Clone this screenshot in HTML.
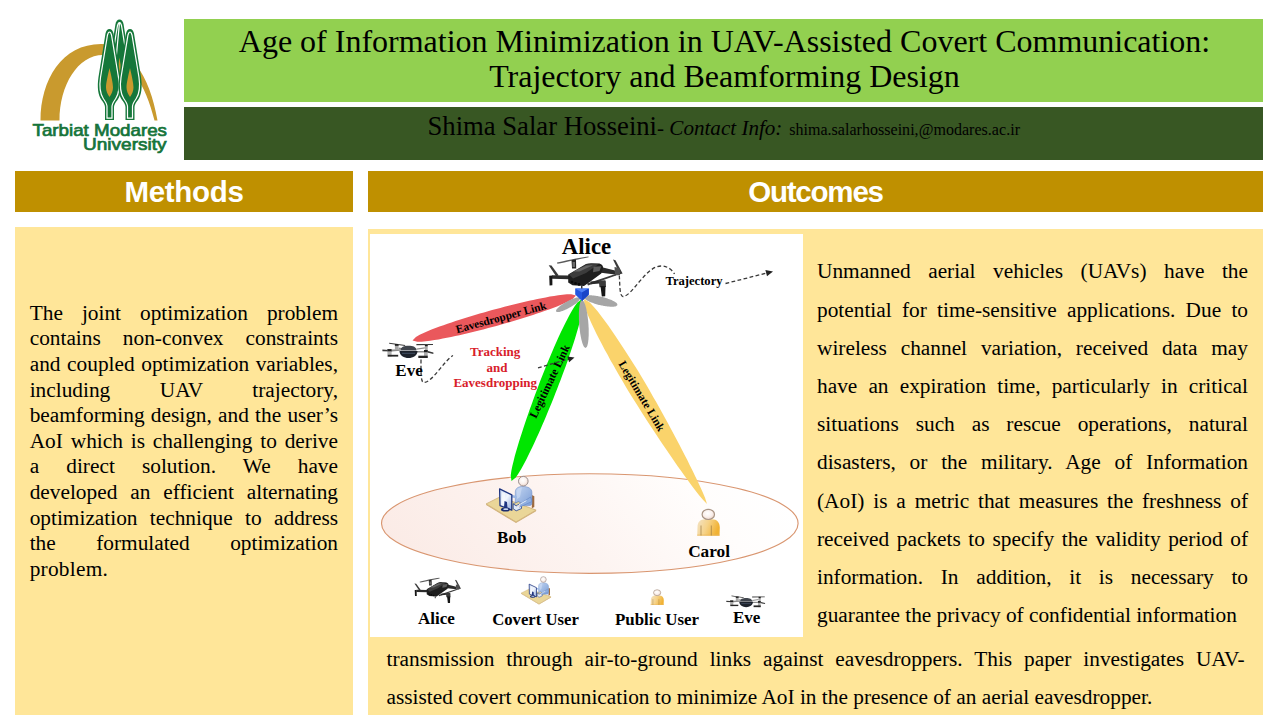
<!DOCTYPE html>
<html><head><meta charset="utf-8">
<style>
html,body{margin:0;padding:0;}
body{width:1280px;height:720px;position:relative;overflow:hidden;background:#fff;font-family:"Liberation Serif",serif;color:#000;}
.abs{position:absolute;}
.box{position:absolute;}
#title{left:184px;top:19px;width:1079px;height:83px;background:#92D050;}
#author{left:184px;top:107px;width:1079px;height:53px;background:#385723;}
.hdr{top:171px;height:41px;background:#BF9000;color:#fff;font-family:"Liberation Sans",sans-serif;font-weight:bold;font-size:29.5px;line-height:42px;text-align:center;}
#mh{left:15px;width:338px;}
#oh{left:368px;width:895px;}
#mb{left:15px;top:227px;width:338px;height:488px;background:#FFE699;}
#ob{left:368px;top:229px;width:895px;height:486px;background:#FFE699;}
#fig{left:370px;top:234px;width:433px;height:403px;background:#fff;}
.tl{position:absolute;white-space:nowrap;}
.j{text-align:justify;text-align-last:justify;white-space:normal;}
.mline{position:absolute;left:29.7px;width:308.3px;font-size:21.33px;line-height:25.6px;height:25.6px;}
.rline{position:absolute;left:817px;width:431px;font-size:21.33px;line-height:38.2px;height:38.2px;}
.bline{position:absolute;left:386.5px;width:858px;font-size:21.33px;line-height:38px;height:38px;}
</style></head>
<body>
<!-- logo -->

<svg class="abs" style="left:0;top:0" width="184" height="165" viewBox="0 0 184 165">
 <defs>
  
  
 </defs>
 <path d="M40.5,120.5 C40.5,80 62,44 101,44 C128,44 150,75 157.5,120.5 L154.5,120.5 C146,85 128,55 103,55 C78,55 59.5,85 59.5,120.5 Z" fill="#C99A2E"/>
 <g transform="translate(119.5,19.5)">
   <path d="M0,0 C2.2,0 3.4,2 4,4.5 L11,48 C12.5,58 11.5,66 8,71 L-8,71 C-11.5,66 -12.5,58 -11,48 L-4,4.5 C-3.4,2 -2.2,0 0,0 Z" fill="#15773A"/>
   <path d="M0,3 C0.9,3 1.6,4.5 2,6 L9,48.5 C10.3,57.5 9.5,64.5 6.3,69.5 M-6.3,69.5 C-9.5,64.5 -10.3,57.5 -9,48.5 L-2,6 C-1.6,4.5 -0.9,3 0,3 Z" fill="none" stroke="#fff" stroke-width="1.2"/>
   <path d="M0,38 C1.2,46 2.2,54 2.2,58 C2.2,61 1,63 0,64 C-1,63 -2.2,61 -2.2,58 C-2.2,54 -1.2,46 0,38 Z" fill="#C99A2E"/></g>
 <g transform="translate(109.5,29)">
   <path d="M0,0 C2.2,0 3.4,2 4,4.5 L11,48 C12.5,58 11.5,66 8,71 C6.5,73 4.5,75.5 4.5,78 L4.5,91 L-4.5,91 L-4.5,78 C-4.5,75.5 -6.5,73 -8,71 C-11.5,66 -12.5,58 -11,48 L-4,4.5 C-3.4,2 -2.2,0 0,0 Z" fill="#15773A"/>
   <path d="M0,3 C0.9,3 1.6,4.5 2,6 L9,48.5 C10.3,57.5 9.5,64.5 6.3,69.5 C4.8,71.8 2.5,74.5 2.5,77.5 L2.5,89.2 L-2.5,89.2 L-2.5,77.5 C-2.5,74.5 -4.8,71.8 -6.3,69.5 C-9.5,64.5 -10.3,57.5 -9,48.5 L-2,6 C-1.6,4.5 -0.9,3 0,3 Z" fill="none" stroke="#fff" stroke-width="1.2"/>
   <path d="M0,39 C1.5,46 3.5,54 3.5,58.5 C3.5,62 2,65 0,68 C-2,65 -3.5,62 -3.5,58.5 C-3.5,54 -1.5,46 0,39 Z" fill="#C99A2E"/></g>
 <g transform="translate(130,29)">
   <path d="M0,0 C2.2,0 3.4,2 4,4.5 L11,48 C12.5,58 11.5,66 8,71 C6.5,73 4.5,75.5 4.5,78 L4.5,91 L-4.5,91 L-4.5,78 C-4.5,75.5 -6.5,73 -8,71 C-11.5,66 -12.5,58 -11,48 L-4,4.5 C-3.4,2 -2.2,0 0,0 Z" fill="#15773A"/>
   <path d="M0,3 C0.9,3 1.6,4.5 2,6 L9,48.5 C10.3,57.5 9.5,64.5 6.3,69.5 C4.8,71.8 2.5,74.5 2.5,77.5 L2.5,89.2 L-2.5,89.2 L-2.5,77.5 C-2.5,74.5 -4.8,71.8 -6.3,69.5 C-9.5,64.5 -10.3,57.5 -9,48.5 L-2,6 C-1.6,4.5 -0.9,3 0,3 Z" fill="none" stroke="#fff" stroke-width="1.2"/>
   <path d="M0,39 C1.5,46 3.5,54 3.5,58.5 C3.5,62 2,65 0,68 C-2,65 -3.5,62 -3.5,58.5 C-3.5,54 -1.5,46 0,39 Z" fill="#C99A2E"/></g>
 <text x="32.5" y="135.8" font-family="Liberation Sans" font-size="16.5" fill="#16743A" stroke="#16743A" stroke-width="0.7" textLength="134.5" lengthAdjust="spacingAndGlyphs">Tarbiat Modares</text>
 <text x="83" y="149.9" font-family="Liberation Sans" font-size="16.5" fill="#16743A" stroke="#16743A" stroke-width="0.7" textLength="83.5" lengthAdjust="spacingAndGlyphs">University</text>
</svg>


<div class="box" id="title"></div>
<div class="tl" style="left:185px;top:23.5px;width:1079px;text-align:center;font-size:32px;line-height:35px;">Age of Information Minimization in UAV-Assisted Covert Communication:<br>Trajectory and Beamforming Design</div>
<div class="box" id="author"></div>
<div class="tl" style="left:427.5px;top:110.6px;font-size:26.67px;line-height:30px;">Shima Salar Hosseini<span style="font-style:italic;font-size:21.1px;">- Contact Info: </span><span style="font-size:16px;margin-left:1.5px;letter-spacing:0.03px">shima.salarhosseini,@modares.ac.ir</span></div>

<div class="box hdr" id="mh" style="letter-spacing:-0.3px">Methods</div>
<div class="box hdr" id="oh" style="letter-spacing:-1.2px">Outcomes</div>
<div class="box" id="mb"></div>
<div class="box" id="ob"></div>
<div class="box" id="fig"></div>

<svg style="position:absolute;left:370px;top:234px" width="433" height="403" viewBox="370 234 433 403">
<defs>
 <linearGradient id="ellg" x1="0" y1="0.6" x2="1" y2="0.4">
  <stop offset="0" stop-color="#FBEBE6"/>
  <stop offset="0.45" stop-color="#FDF4F1"/>
  <stop offset="0.8" stop-color="#FFFDFC"/>
  <stop offset="1" stop-color="#FFFFFF"/>
 </linearGradient>
 <linearGradient id="carolg" x1="0" y1="0" x2="1" y2="0.3">
  <stop offset="0" stop-color="#F3E3C6"/>
  <stop offset="0.5" stop-color="#F6D38A"/>
  <stop offset="1" stop-color="#F1B234"/>
 </linearGradient>
 <radialGradient id="headg" cx="0.45" cy="0.4" r="0.6">
  <stop offset="0" stop-color="#FFFFFF"/>
  <stop offset="0.6" stop-color="#FAF0EC"/>
  <stop offset="1" stop-color="#EBD3C8"/>
 </radialGradient>
 <linearGradient id="bobg" x1="0" y1="0" x2="1" y2="1">
  <stop offset="0" stop-color="#C3D5F1"/>
  <stop offset="1" stop-color="#7C9ED6"/>
 </linearGradient>
 <linearGradient id="scrg" x1="0" y1="0" x2="1" y2="1">
  <stop offset="0" stop-color="#C9D8F2"/>
  <stop offset="0.5" stop-color="#F2F6FD"/>
  <stop offset="1" stop-color="#8AA5DA"/>
 </linearGradient>
 
 
 >
 
</defs>

<!-- big ellipse -->
<ellipse cx="589.8" cy="523.5" rx="208.3" ry="49.8" fill="url(#ellg)" stroke="#D99670" stroke-width="1.15"/>

<!-- beams -->
<path d="M584.0,299.0 L584.4,305.8 L586.4,311.5 L588.7,317.1 L591.1,322.6 L593.7,328.0 L596.3,333.4 L599.0,338.8 L601.8,344.1 L604.6,349.4 L607.5,354.6 L610.3,359.9 L613.3,365.1 L616.2,370.3 L619.2,375.5 L622.2,380.6 L625.2,385.8 L628.3,390.9 L631.4,396.0 L634.6,401.1 L637.8,406.1 L641.0,411.2 L644.2,416.2 L647.4,421.2 L650.7,426.3 L654.0,431.3 L657.3,436.2 L660.6,441.2 L664.0,446.2 L667.3,451.1 L670.7,456.1 L674.1,461.0 L677.5,465.9 L681.0,470.8 L684.5,475.7 L688.0,480.5 L691.6,485.4 L695.2,490.2 L698.9,494.9 L702.7,499.6 L707.0,504.0 L707.0,504.0 L705.1,498.1 L702.8,492.6 L700.3,487.1 L697.8,481.6 L695.2,476.2 L692.6,470.8 L689.9,465.4 L687.3,460.1 L684.5,454.8 L681.8,449.4 L679.0,444.1 L676.2,438.8 L673.4,433.5 L670.6,428.3 L667.8,423.0 L664.9,417.7 L662.0,412.5 L659.1,407.3 L656.2,402.1 L653.2,396.9 L650.3,391.7 L647.3,386.5 L644.2,381.3 L641.2,376.2 L638.1,371.1 L634.9,366.0 L631.7,361.0 L628.5,355.9 L625.3,350.9 L622.0,345.9 L618.7,340.9 L615.4,335.9 L612.0,331.0 L608.6,326.1 L605.1,321.2 L601.5,316.4 L597.8,311.6 L593.9,307.0 L589.8,302.5 L584.0,299.0Z" fill="#FAD36B"/>
<path d="M582.0,299.0 L577.4,302.4 L574.5,306.6 L571.9,310.8 L569.5,315.1 L567.2,319.4 L565.0,323.8 L562.8,328.2 L560.7,332.6 L558.6,337.0 L556.6,341.5 L554.6,346.0 L552.7,350.4 L550.8,354.9 L548.9,359.4 L547.0,363.9 L545.2,368.5 L543.4,373.0 L541.6,377.5 L539.8,382.1 L538.1,386.7 L536.4,391.2 L534.7,395.8 L533.0,400.4 L531.4,405.0 L529.7,409.6 L528.1,414.2 L526.5,418.8 L524.9,423.4 L523.4,428.0 L521.9,432.7 L520.4,437.3 L518.9,442.0 L517.5,446.7 L516.1,451.4 L514.8,456.1 L513.6,460.9 L512.4,465.7 L511.4,470.5 L510.7,475.4 L511.5,481.0 L511.5,481.0 L515.8,477.5 L518.6,473.3 L521.2,469.0 L523.5,464.7 L525.8,460.4 L528.0,456.0 L530.2,451.6 L532.3,447.2 L534.4,442.8 L536.4,438.3 L538.4,433.9 L540.4,429.4 L542.3,424.9 L544.3,420.4 L546.2,415.9 L548.0,411.4 L549.9,406.9 L551.8,402.4 L553.6,397.9 L555.4,393.3 L557.2,388.8 L558.9,384.3 L560.7,379.7 L562.4,375.1 L564.1,370.6 L565.8,366.0 L567.4,361.4 L569.0,356.8 L570.6,352.1 L572.1,347.5 L573.6,342.9 L575.1,338.2 L576.5,333.5 L577.9,328.8 L579.2,324.1 L580.4,319.3 L581.5,314.5 L582.4,309.6 L583.1,304.7 L582.0,299.0Z" fill="#00E600"/>
<path d="M576.0,295.5 L571.2,294.2 L566.9,294.3 L562.6,294.7 L558.3,295.3 L554.1,295.9 L549.9,296.6 L545.7,297.4 L541.6,298.2 L537.4,299.0 L533.2,299.9 L529.1,300.8 L525.0,301.8 L520.8,302.7 L516.7,303.7 L512.6,304.7 L508.5,305.8 L504.4,306.8 L500.3,307.9 L496.2,309.0 L492.1,310.1 L488.0,311.2 L483.9,312.4 L479.8,313.6 L475.8,314.8 L471.7,316.0 L467.6,317.2 L463.6,318.5 L459.6,319.8 L455.5,321.1 L451.5,322.4 L447.5,323.8 L443.5,325.2 L439.5,326.6 L435.5,328.1 L431.5,329.6 L427.5,331.3 L423.6,333.0 L419.7,334.8 L415.9,336.9 L412.5,340.5 L412.5,340.5 L417.3,341.8 L421.6,341.7 L425.9,341.3 L430.2,340.7 L434.4,340.1 L438.6,339.4 L442.8,338.6 L446.9,337.8 L451.1,337.0 L455.3,336.1 L459.4,335.2 L463.5,334.2 L467.7,333.3 L471.8,332.3 L475.9,331.3 L480.0,330.2 L484.1,329.2 L488.2,328.1 L492.3,327.0 L496.4,325.9 L500.5,324.8 L504.6,323.6 L508.7,322.4 L512.7,321.2 L516.8,320.0 L520.9,318.8 L524.9,317.5 L528.9,316.2 L533.0,314.9 L537.0,313.6 L541.0,312.2 L545.0,310.8 L549.0,309.4 L553.0,307.9 L557.0,306.4 L561.0,304.7 L564.9,303.0 L568.8,301.2 L572.6,299.1 L576.0,295.5Z" fill="#EA585C"/>
<path d="M580.0,298.0 L578.9,297.4 L578.1,297.4 L577.3,297.5 L576.6,297.6 L575.9,297.8 L575.2,298.0 L574.6,298.2 L573.9,298.4 L573.2,298.6 L572.6,298.9 L572.0,299.1 L571.3,299.4 L570.7,299.7 L570.1,300.0 L569.4,300.3 L568.8,300.6 L568.2,300.9 L567.6,301.2 L567.0,301.5 L566.4,301.9 L565.8,302.2 L565.2,302.6 L564.6,302.9 L564.0,303.3 L563.4,303.7 L562.9,304.0 L562.3,304.4 L561.7,304.8 L561.2,305.2 L560.6,305.6 L560.0,306.1 L559.5,306.5 L559.0,307.0 L558.4,307.4 L557.9,307.9 L557.4,308.4 L556.9,309.0 L556.5,309.6 L556.1,310.3 L556.0,311.5 L556.0,311.5 L557.1,312.1 L557.9,312.1 L558.7,312.0 L559.4,311.9 L560.1,311.7 L560.8,311.5 L561.4,311.3 L562.1,311.1 L562.8,310.9 L563.4,310.6 L564.0,310.4 L564.7,310.1 L565.3,309.8 L565.9,309.5 L566.6,309.2 L567.2,308.9 L567.8,308.6 L568.4,308.3 L569.0,308.0 L569.6,307.6 L570.2,307.3 L570.8,306.9 L571.4,306.6 L572.0,306.2 L572.6,305.8 L573.1,305.5 L573.7,305.1 L574.3,304.7 L574.8,304.3 L575.4,303.9 L576.0,303.4 L576.5,303.0 L577.0,302.5 L577.6,302.1 L578.1,301.6 L578.6,301.1 L579.1,300.5 L579.5,299.9 L579.9,299.2 L580.0,298.0Z" fill="#A6A6A6"/>
<path d="M584.0,297.0 L584.5,298.5 L585.2,299.2 L586.0,299.8 L586.8,300.3 L587.5,300.7 L588.3,301.1 L589.1,301.5 L589.9,301.9 L590.7,302.2 L591.5,302.5 L592.3,302.8 L593.2,303.1 L594.0,303.4 L594.8,303.7 L595.6,304.0 L596.4,304.2 L597.3,304.4 L598.1,304.7 L598.9,304.9 L599.8,305.1 L600.6,305.3 L601.5,305.5 L602.3,305.6 L603.1,305.8 L604.0,306.0 L604.8,306.1 L605.7,306.2 L606.6,306.3 L607.4,306.4 L608.3,306.5 L609.1,306.6 L610.0,306.7 L610.9,306.7 L611.8,306.7 L612.7,306.7 L613.6,306.7 L614.5,306.6 L615.4,306.4 L616.4,306.1 L617.5,305.0 L617.5,305.0 L617.0,303.5 L616.3,302.8 L615.5,302.2 L614.7,301.7 L614.0,301.3 L613.2,300.9 L612.4,300.5 L611.6,300.1 L610.8,299.8 L610.0,299.5 L609.2,299.2 L608.3,298.9 L607.5,298.6 L606.7,298.3 L605.9,298.0 L605.1,297.8 L604.2,297.6 L603.4,297.3 L602.6,297.1 L601.7,296.9 L600.9,296.7 L600.0,296.5 L599.2,296.4 L598.4,296.2 L597.5,296.0 L596.7,295.9 L595.8,295.8 L594.9,295.7 L594.1,295.6 L593.2,295.5 L592.4,295.4 L591.5,295.3 L590.6,295.3 L589.7,295.3 L588.8,295.3 L587.9,295.3 L587.0,295.4 L586.1,295.6 L585.1,295.9 L584.0,297.0Z" fill="#A6A6A6"/>
<path d="M582.0,300.0 L580.7,301.3 L580.2,302.5 L579.9,303.8 L579.6,305.0 L579.4,306.2 L579.3,307.4 L579.1,308.7 L579.1,309.9 L579.0,311.1 L578.9,312.3 L578.9,313.5 L578.9,314.7 L578.9,315.9 L578.9,317.1 L578.9,318.3 L578.9,319.5 L579.0,320.7 L579.1,321.9 L579.1,323.1 L579.2,324.3 L579.3,325.5 L579.4,326.7 L579.5,327.9 L579.7,329.1 L579.8,330.3 L580.0,331.5 L580.1,332.7 L580.3,333.9 L580.5,335.1 L580.7,336.3 L581.0,337.5 L581.2,338.7 L581.5,339.9 L581.8,341.0 L582.1,342.2 L582.5,343.4 L582.9,344.6 L583.4,345.7 L584.1,346.9 L585.6,348.0 L585.6,348.0 L586.9,346.7 L587.4,345.5 L587.7,344.2 L588.0,343.0 L588.2,341.8 L588.3,340.6 L588.5,339.3 L588.5,338.1 L588.6,336.9 L588.7,335.7 L588.7,334.5 L588.7,333.3 L588.7,332.1 L588.7,330.9 L588.7,329.7 L588.7,328.5 L588.6,327.3 L588.5,326.1 L588.5,324.9 L588.4,323.7 L588.3,322.5 L588.2,321.3 L588.1,320.1 L587.9,318.9 L587.8,317.7 L587.6,316.5 L587.5,315.3 L587.3,314.1 L587.1,312.9 L586.9,311.7 L586.6,310.5 L586.4,309.3 L586.1,308.1 L585.8,307.0 L585.5,305.8 L585.1,304.6 L584.7,303.4 L584.2,302.3 L583.5,301.1 L582.0,300.0Z" fill="#A6A6A6"/>
<!-- blue cube -->
<path d="M575.2,288.5 L588.8,288.5 L588.8,294.5 L582,301 L575.2,294.5 Z" fill="#2456E0"/>
<path d="M575.2,288.5 L588.8,288.5 L582,292.5 Z" fill="#4F80F5"/>
<path d="M582,292.5 L588.8,288.5 L588.8,294.5 L582,301 Z" fill="#1A45C8"/>

<g transform="translate(549,256)">
  <!-- local origin = page (549,256) -->
  <path d="M8,6.6 C14,5 30,1.5 39.5,0.4 L39.7,1.3 C31,2.8 16,6.6 8.4,7.8 Z" fill="#5a5a5a"/>
  <path d="M22.5,4 L27,3.6 L27.2,12.4 L23,12.6 Z" fill="#262626"/>
  <path d="M23.5,6 L26,6 L26,11 L23.5,11 Z" fill="#6a6a6a"/>
  <path d="M-0.3,9.2 L2.5,9.6 L9.6,19.2 L7.2,20.4 Z" fill="#3a3a3a"/>
  <path d="M3,19.2 L20.3,19.6 L20.3,23.2 L3,22.8 Z" fill="#2c2c2c"/>
  <path d="M0.2,19.8 L3.3,19.6 L3.4,29.2 L0.6,29.4 Z" fill="#161616"/>
  <path d="M64,3.6 L66.5,4.2 L73.6,17.6 L71,18.2 Z" fill="#3a3a3a"/>
  <path d="M52,11 L66,14.4 L66,18.4 L52,16.8 Z" fill="#2a2a2a"/>
  <path d="M65.5,11 L70.8,12 L71,19 L66,19.6 Z" fill="#505050"/>
  <path d="M38,27.6 L66.5,18 L67,19.6 L39,29.6 Z" fill="#3a3a3a"/>
  <path d="M19.2,18.5 L37,8 Q40,7 43,7.2 L50.5,7.6 Q53.8,8.6 54.2,12 L52.3,17.6 L41,25.8 L35,30 L23.5,29.2 L19.2,26.5 Z" fill="#1e1e1e"/>
  <path d="M20,18.5 L37.2,8.6 Q40,7.8 43,8 L49.5,8.3 L37,17 L24,22.5 Z" fill="#3c3c3c"/>
  <path d="M24,15.6 L37.5,9.4 L44,9.2 L30.5,15.6 Z" fill="#666"/>
  <path d="M44.6,10.8 L52.3,10.2 L50.5,15 L44,16.2 Z" fill="#5c5c5c"/>
  <circle cx="23" cy="26" r="1.3" fill="#0a0a0a"/>
  <circle cx="26.5" cy="27.4" r="1.3" fill="#0a0a0a"/>
  <circle cx="30" cy="28.4" r="1.3" fill="#0a0a0a"/>
  <path d="M41.4,25.5 L56,24.4 L56.4,27 L42,28.2 Z" fill="#2a2a2a"/>
  <path d="M49.7,24.8 L56.7,24.6 L57,31 L50.5,31.2 Z" fill="#3a3a3a"/>
  <path d="M51.5,30 L56.5,30 L56.2,40.2 L52.8,40.4 Z" fill="#161616"/>
  <path d="M32,29.5 L33.5,29.5 L33.5,32.6 L32,32.6 Z" fill="#333"/></g>
<g transform="translate(382,342)">
  <!-- local origin = page (382,342) -->
  <path d="M7.2,0.8 L23.2,3 L23.2,4 L7.2,1.8 Z" fill="#3a3a3a"/>
  <path d="M34.4,2 L51,1.9 L51,3.1 L34.4,3.2 Z" fill="#3a3a3a"/>
  <path d="M0.4,7.6 L10,8.2 L10,9.6 L0.4,9.2 Z" fill="#3a3a3a"/>
  <path d="M45,8.8 L51.4,10.4 L51.4,12 L45,10.6 Z" fill="#3a3a3a"/>
  <path d="M9.6,7.6 L18.5,7.2 L18.5,8.8 L9.6,9.4 Z" fill="#8c8c8c"/>
  <path d="M16.6,5.6 L20,6 L20,7.4 L16.6,7 Z" fill="#8c8c8c"/>
  <path d="M34.5,6.5 L42.9,5.2 L42.9,6.6 L34.5,7.8 Z" fill="#8c8c8c"/>
  <path d="M34.5,9 L42,9 L42,10.5 L34.5,10.5 Z" fill="#8c8c8c"/>
  <rect x="12.9" y="2" width="3.7" height="6" fill="#a6a6a6"/>
  <rect x="12.9" y="2" width="3.7" height="1.8" fill="#1e1e1e"/>
  <rect x="42.9" y="2.4" width="2.8" height="6.6" fill="#a6a6a6"/>
  <rect x="42.9" y="2.4" width="2.8" height="1.8" fill="#1e1e1e"/>
  <rect x="5.4" y="7.1" width="4.2" height="7.5" fill="#b0b0b0"/>
  <rect x="5.4" y="7.1" width="4.2" height="2.2" fill="#1e1e1e"/>
  <rect x="42" y="8" width="3.7" height="8" fill="#b0b0b0"/>
  <rect x="42" y="8" width="3.7" height="2.2" fill="#1e1e1e"/>
  <path d="M5.8,12.8 L16.2,12.8 L16.2,14.6 L5.8,14.6 Z" fill="#262626"/>
  <path d="M36.3,13.7 L45.7,13.7 L45.7,16 L36.3,16 Z" fill="#262626"/>
  <path d="M18.5,8.5 C18.5,5 22,3.8 26.5,3.8 C31,3.8 34.5,5 34.5,8.5 Z" fill="#40454d"/>
  <path d="M17.5,9 L35.5,9 C35.5,13.5 31,16 26.5,16 C22,16 17.5,13.5 17.5,9 Z" fill="#1d222b"/>
  <path d="M20,11.3 L33,11.3" stroke="#4a5a70" stroke-width="0.8"/></g>
<g transform="translate(486,477)">
  <path d="M0.1,26.9 L14,19.9 L50.1,33.1 L30,45 Z" fill="#EAD698" stroke="#C8A868" stroke-width="0.7"/>
  <path d="M30,45 L50.1,33.1 L50.1,34.2 L30,46 L0.1,28 L0.1,26.9 Z" fill="#D2B27A"/>
  <path d="M45.8,18 L48.3,19.2 L48.3,30 L45.8,31.2 Z" fill="#9E6A3E"/>
  <path d="M29.3,27 L29.3,15 C29.3,11.5 32,9.5 37,9.5 C42,9.5 45.9,11.5 45.9,15.5 L45.9,26.5 C45.9,28 44.5,28.6 43,28.6 L33,28.6 Z" fill="url(#bobg)" stroke="#6E8FC8" stroke-width="0.6"/>
  <path d="M31,13.5 C32,11 34,10.2 36,10.2 L34,20 L31,22 Z" fill="#D0DEF5" opacity="0.6"/>
  <path d="M25.8,17.8 L30.7,19 L30.7,21.5 L25.8,20.5 Z" fill="#9DB8E4"/>
  <path d="M27.2,26.9 L32.5,24.6 L35.5,26.4 L30.2,28.8 Z" fill="#E3D29A" stroke="#3E5CA0" stroke-width="0.5"/>
  <path d="M27.2,26.9 L30.2,28.8 L35.5,26.4 L35.5,31.5 L30.2,33.8 L27.2,31.8 Z" fill="#E2EAF7" stroke="#22408E" stroke-width="0.8"/>
  <path d="M44.5,20 L46,24.5 L33.5,30.2 L31.8,28.6 Z" fill="#8FAFE0" stroke="#5A7DBE" stroke-width="0.5"/>
  <path d="M40.4,23.6 L33,27.8" stroke="#F2F6FC" stroke-width="0.9"/>
  <ellipse cx="32.6" cy="29" rx="1.4" ry="1" fill="#F3E4DC"/>
  <circle cx="37.3" cy="4.2" r="4.8" fill="url(#headg)" stroke="#9A9090" stroke-width="1"/>
  <path d="M13.6,11.9 L25.8,17.8 L25.8,33.2 L14,28.6 Z" fill="url(#scrg)" stroke="#1F3580" stroke-width="1.3" stroke-linejoin="round"/>
  <path d="M16,15 L19,16.5 L18.5,27 L16,26 Z" fill="#FFFFFF" opacity="0.55"/>
  <path d="M18.5,24 L21,25 L21.5,31.5 L18,31 Z" fill="#1F3580"/>
  <ellipse cx="19.5" cy="32.6" rx="4.6" ry="2" fill="#1A2D70"/>
  <ellipse cx="19.8" cy="32.2" rx="2.6" ry="0.9" fill="#C8D6F0"/></g>
<g transform="translate(696,508)">
  <path d="M1.2,27.8 L1.5,19 C1.5,14 4.5,11.3 9,11.3 L16,11.3 C21,11.3 23.8,14.5 23.8,19.5 L23.5,27.8 Z" fill="url(#carolg)"/>
  <path d="M1.2,26.5 L23.6,26.5 L23.5,27.8 L1.2,27.8 Z" fill="#E8B860" opacity="0.6"/>
  <path d="M5,17.5 L5,27.5 M15.3,17.5 L15.3,27.5" stroke="#9C7A40" stroke-width="0.7"/>
  <ellipse cx="12.3" cy="6.4" rx="6.2" ry="5.1" fill="url(#headg)" stroke="#A89484" stroke-width="1.2"/></g>

<!-- legend icons -->
<g transform="translate(414.6,577.6) scale(0.63)">
  <!-- local origin = page (549,256) -->
  <path d="M8,6.6 C14,5 30,1.5 39.5,0.4 L39.7,1.3 C31,2.8 16,6.6 8.4,7.8 Z" fill="#5a5a5a"/>
  <path d="M22.5,4 L27,3.6 L27.2,12.4 L23,12.6 Z" fill="#262626"/>
  <path d="M23.5,6 L26,6 L26,11 L23.5,11 Z" fill="#6a6a6a"/>
  <path d="M-0.3,9.2 L2.5,9.6 L9.6,19.2 L7.2,20.4 Z" fill="#3a3a3a"/>
  <path d="M3,19.2 L20.3,19.6 L20.3,23.2 L3,22.8 Z" fill="#2c2c2c"/>
  <path d="M0.2,19.8 L3.3,19.6 L3.4,29.2 L0.6,29.4 Z" fill="#161616"/>
  <path d="M64,3.6 L66.5,4.2 L73.6,17.6 L71,18.2 Z" fill="#3a3a3a"/>
  <path d="M52,11 L66,14.4 L66,18.4 L52,16.8 Z" fill="#2a2a2a"/>
  <path d="M65.5,11 L70.8,12 L71,19 L66,19.6 Z" fill="#505050"/>
  <path d="M38,27.6 L66.5,18 L67,19.6 L39,29.6 Z" fill="#3a3a3a"/>
  <path d="M19.2,18.5 L37,8 Q40,7 43,7.2 L50.5,7.6 Q53.8,8.6 54.2,12 L52.3,17.6 L41,25.8 L35,30 L23.5,29.2 L19.2,26.5 Z" fill="#1e1e1e"/>
  <path d="M20,18.5 L37.2,8.6 Q40,7.8 43,8 L49.5,8.3 L37,17 L24,22.5 Z" fill="#3c3c3c"/>
  <path d="M24,15.6 L37.5,9.4 L44,9.2 L30.5,15.6 Z" fill="#666"/>
  <path d="M44.6,10.8 L52.3,10.2 L50.5,15 L44,16.2 Z" fill="#5c5c5c"/>
  <circle cx="23" cy="26" r="1.3" fill="#0a0a0a"/>
  <circle cx="26.5" cy="27.4" r="1.3" fill="#0a0a0a"/>
  <circle cx="30" cy="28.4" r="1.3" fill="#0a0a0a"/>
  <path d="M41.4,25.5 L56,24.4 L56.4,27 L42,28.2 Z" fill="#2a2a2a"/>
  <path d="M49.7,24.8 L56.7,24.6 L57,31 L50.5,31.2 Z" fill="#3a3a3a"/>
  <path d="M51.5,30 L56.5,30 L56.2,40.2 L52.8,40.4 Z" fill="#161616"/>
  <path d="M32,29.5 L33.5,29.5 L33.5,32.6 L32,32.6 Z" fill="#333"/></g>
<g transform="translate(521,577) scale(0.6)">
  <path d="M0.1,26.9 L14,19.9 L50.1,33.1 L30,45 Z" fill="#EAD698" stroke="#C8A868" stroke-width="0.7"/>
  <path d="M30,45 L50.1,33.1 L50.1,34.2 L30,46 L0.1,28 L0.1,26.9 Z" fill="#D2B27A"/>
  <path d="M45.8,18 L48.3,19.2 L48.3,30 L45.8,31.2 Z" fill="#9E6A3E"/>
  <path d="M29.3,27 L29.3,15 C29.3,11.5 32,9.5 37,9.5 C42,9.5 45.9,11.5 45.9,15.5 L45.9,26.5 C45.9,28 44.5,28.6 43,28.6 L33,28.6 Z" fill="url(#bobg)" stroke="#6E8FC8" stroke-width="0.6"/>
  <path d="M31,13.5 C32,11 34,10.2 36,10.2 L34,20 L31,22 Z" fill="#D0DEF5" opacity="0.6"/>
  <path d="M25.8,17.8 L30.7,19 L30.7,21.5 L25.8,20.5 Z" fill="#9DB8E4"/>
  <path d="M27.2,26.9 L32.5,24.6 L35.5,26.4 L30.2,28.8 Z" fill="#E3D29A" stroke="#3E5CA0" stroke-width="0.5"/>
  <path d="M27.2,26.9 L30.2,28.8 L35.5,26.4 L35.5,31.5 L30.2,33.8 L27.2,31.8 Z" fill="#E2EAF7" stroke="#22408E" stroke-width="0.8"/>
  <path d="M44.5,20 L46,24.5 L33.5,30.2 L31.8,28.6 Z" fill="#8FAFE0" stroke="#5A7DBE" stroke-width="0.5"/>
  <path d="M40.4,23.6 L33,27.8" stroke="#F2F6FC" stroke-width="0.9"/>
  <ellipse cx="32.6" cy="29" rx="1.4" ry="1" fill="#F3E4DC"/>
  <circle cx="37.3" cy="4.2" r="4.8" fill="url(#headg)" stroke="#9A9090" stroke-width="1"/>
  <path d="M13.6,11.9 L25.8,17.8 L25.8,33.2 L14,28.6 Z" fill="url(#scrg)" stroke="#1F3580" stroke-width="1.3" stroke-linejoin="round"/>
  <path d="M16,15 L19,16.5 L18.5,27 L16,26 Z" fill="#FFFFFF" opacity="0.55"/>
  <path d="M18.5,24 L21,25 L21.5,31.5 L18,31 Z" fill="#1F3580"/>
  <ellipse cx="19.5" cy="32.6" rx="4.6" ry="2" fill="#1A2D70"/>
  <ellipse cx="19.8" cy="32.2" rx="2.6" ry="0.9" fill="#C8D6F0"/></g>
<g transform="translate(650,589) scale(0.58)">
  <path d="M1.2,27.8 L1.5,19 C1.5,14 4.5,11.3 9,11.3 L16,11.3 C21,11.3 23.8,14.5 23.8,19.5 L23.5,27.8 Z" fill="url(#carolg)"/>
  <path d="M1.2,26.5 L23.6,26.5 L23.5,27.8 L1.2,27.8 Z" fill="#E8B860" opacity="0.6"/>
  <path d="M5,17.5 L5,27.5 M15.3,17.5 L15.3,27.5" stroke="#9C7A40" stroke-width="0.7"/>
  <ellipse cx="12.3" cy="6.4" rx="6.2" ry="5.1" fill="url(#headg)" stroke="#A89484" stroke-width="1.2"/></g>
<g transform="translate(726,595) scale(0.76)">
  <!-- local origin = page (382,342) -->
  <path d="M7.2,0.8 L23.2,3 L23.2,4 L7.2,1.8 Z" fill="#3a3a3a"/>
  <path d="M34.4,2 L51,1.9 L51,3.1 L34.4,3.2 Z" fill="#3a3a3a"/>
  <path d="M0.4,7.6 L10,8.2 L10,9.6 L0.4,9.2 Z" fill="#3a3a3a"/>
  <path d="M45,8.8 L51.4,10.4 L51.4,12 L45,10.6 Z" fill="#3a3a3a"/>
  <path d="M9.6,7.6 L18.5,7.2 L18.5,8.8 L9.6,9.4 Z" fill="#8c8c8c"/>
  <path d="M16.6,5.6 L20,6 L20,7.4 L16.6,7 Z" fill="#8c8c8c"/>
  <path d="M34.5,6.5 L42.9,5.2 L42.9,6.6 L34.5,7.8 Z" fill="#8c8c8c"/>
  <path d="M34.5,9 L42,9 L42,10.5 L34.5,10.5 Z" fill="#8c8c8c"/>
  <rect x="12.9" y="2" width="3.7" height="6" fill="#a6a6a6"/>
  <rect x="12.9" y="2" width="3.7" height="1.8" fill="#1e1e1e"/>
  <rect x="42.9" y="2.4" width="2.8" height="6.6" fill="#a6a6a6"/>
  <rect x="42.9" y="2.4" width="2.8" height="1.8" fill="#1e1e1e"/>
  <rect x="5.4" y="7.1" width="4.2" height="7.5" fill="#b0b0b0"/>
  <rect x="5.4" y="7.1" width="4.2" height="2.2" fill="#1e1e1e"/>
  <rect x="42" y="8" width="3.7" height="8" fill="#b0b0b0"/>
  <rect x="42" y="8" width="3.7" height="2.2" fill="#1e1e1e"/>
  <path d="M5.8,12.8 L16.2,12.8 L16.2,14.6 L5.8,14.6 Z" fill="#262626"/>
  <path d="M36.3,13.7 L45.7,13.7 L45.7,16 L36.3,16 Z" fill="#262626"/>
  <path d="M18.5,8.5 C18.5,5 22,3.8 26.5,3.8 C31,3.8 34.5,5 34.5,8.5 Z" fill="#40454d"/>
  <path d="M17.5,9 L35.5,9 C35.5,13.5 31,16 26.5,16 C22,16 17.5,13.5 17.5,9 Z" fill="#1d222b"/>
  <path d="M20,11.3 L33,11.3" stroke="#4a5a70" stroke-width="0.8"/></g>

<!-- dashed curves -->
<g fill="none" stroke="#3a3a3a" stroke-width="1.3" stroke-dasharray="3.8 2.4">
 <path d="M619.3,275.5 C620,286 619.5,296 623,296.5 C632,296.5 646,266 661,266 C668,266 672,270 674.5,274"/>
 <path d="M725.5,283.5 L767,273"/>
 <path d="M421,359.5 C421,372 420.5,382.5 424,382.5 C432,382.5 444,361 453,355.5"/>
 <path d="M538,367.8 L569,359"/>
</g>
<path d="M773.0,271.5 L767.0,276.3 L765.4,270.1Z" fill="#222"/>
<path d="M574.5,357.5 L569.1,362.2 L567.4,356.4Z" fill="#222"/>

<!-- labels -->
<g font-family="Liberation Serif" font-weight="bold" fill="#000">
 <text x="586.5" y="254" font-size="22.8" text-anchor="middle">Alice</text>
 <text x="409" y="376.4" font-size="17" text-anchor="middle">Eve</text>
 <text x="694" y="285" font-size="12.6" text-anchor="middle">Trajectory</text>
 <text x="511.7" y="543" font-size="17" text-anchor="middle">Bob</text>
 <text x="709.1" y="557" font-size="17.3" text-anchor="middle">Carol</text>
 <text x="436.4" y="623.8" font-size="17" text-anchor="middle">Alice</text>
 <text x="535.5" y="624.8" font-size="16.7" text-anchor="middle">Covert User</text>
 <text x="657" y="624.8" font-size="16.9" text-anchor="middle">Public User</text>
 <text x="746.6" y="622.6" font-size="17" text-anchor="middle">Eve</text>
 <text transform="translate(502,321) rotate(-15.2)" font-size="11.3" text-anchor="middle">Eavesdropper Link</text>
 <text transform="translate(553,383) rotate(-64.5)" font-size="11.5" text-anchor="middle">Legitimate Link</text>
 <text transform="translate(638.5,398) rotate(59.3)" font-size="11.5" text-anchor="middle">Legitimate Link</text>
</g>
<g font-family="Liberation Serif" font-weight="bold" fill="#D8202A" font-size="13" text-anchor="middle">
 <text x="495.2" y="355.6">Tracking</text>
 <text x="496.9" y="371.6">and</text>
 <text x="495.2" y="386.7">Eavesdropping</text>
</g>
</svg>


<div id="mtext">
<div class="mline j" style="top:300.75px">The joint optimization problem</div>
<div class="mline j" style="top:326.35px">contains non-convex constraints</div>
<div class="mline j" style="top:351.95px">and coupled optimization variables,</div>
<div class="mline j" style="top:377.55px">including UAV trajectory,</div>
<div class="mline j" style="top:403.15px">beamforming design, and the user’s</div>
<div class="mline j" style="top:428.75px">AoI which is challenging to derive</div>
<div class="mline j" style="top:454.35px">a direct solution. We have</div>
<div class="mline j" style="top:479.95px">developed an efficient alternating</div>
<div class="mline j" style="top:505.55px">optimization technique to address</div>
<div class="mline j" style="top:531.15px">the formulated optimization</div>
<div class="mline" style="top:556.75px;letter-spacing:0.25px">problem.</div>
</div>

<div id="rtext">
<div class="rline j" style="top:252.45px">Unmanned aerial vehicles (UAVs) have the</div>
<div class="rline j" style="top:290.65px">potential for time-sensitive applications. Due to</div>
<div class="rline j" style="top:328.85px">wireless channel variation, received data may</div>
<div class="rline j" style="top:367.05px">have an expiration time, particularly in critical</div>
<div class="rline j" style="top:405.25px">situations such as rescue operations, natural</div>
<div class="rline j" style="top:443.45px">disasters, or the military. Age of Information</div>
<div class="rline j" style="top:481.65px">(AoI) is a metric that measures the freshness of</div>
<div class="rline j" style="top:519.85px">received packets to specify the validity period of</div>
<div class="rline j" style="top:558.05px">information. In addition, it is necessary to</div>
<div class="rline" style="top:596.25px">guarantee the privacy of confidential information</div>
</div>

<div id="btext">
<div class="bline j" style="top:640.10px">transmission through air-to-ground links against eavesdroppers. This paper investigates UAV-</div>
<div class="bline" style="top:678.10px">assisted covert communication to minimize AoI in the presence of an aerial eavesdropper.</div>
</div>

</body></html>
